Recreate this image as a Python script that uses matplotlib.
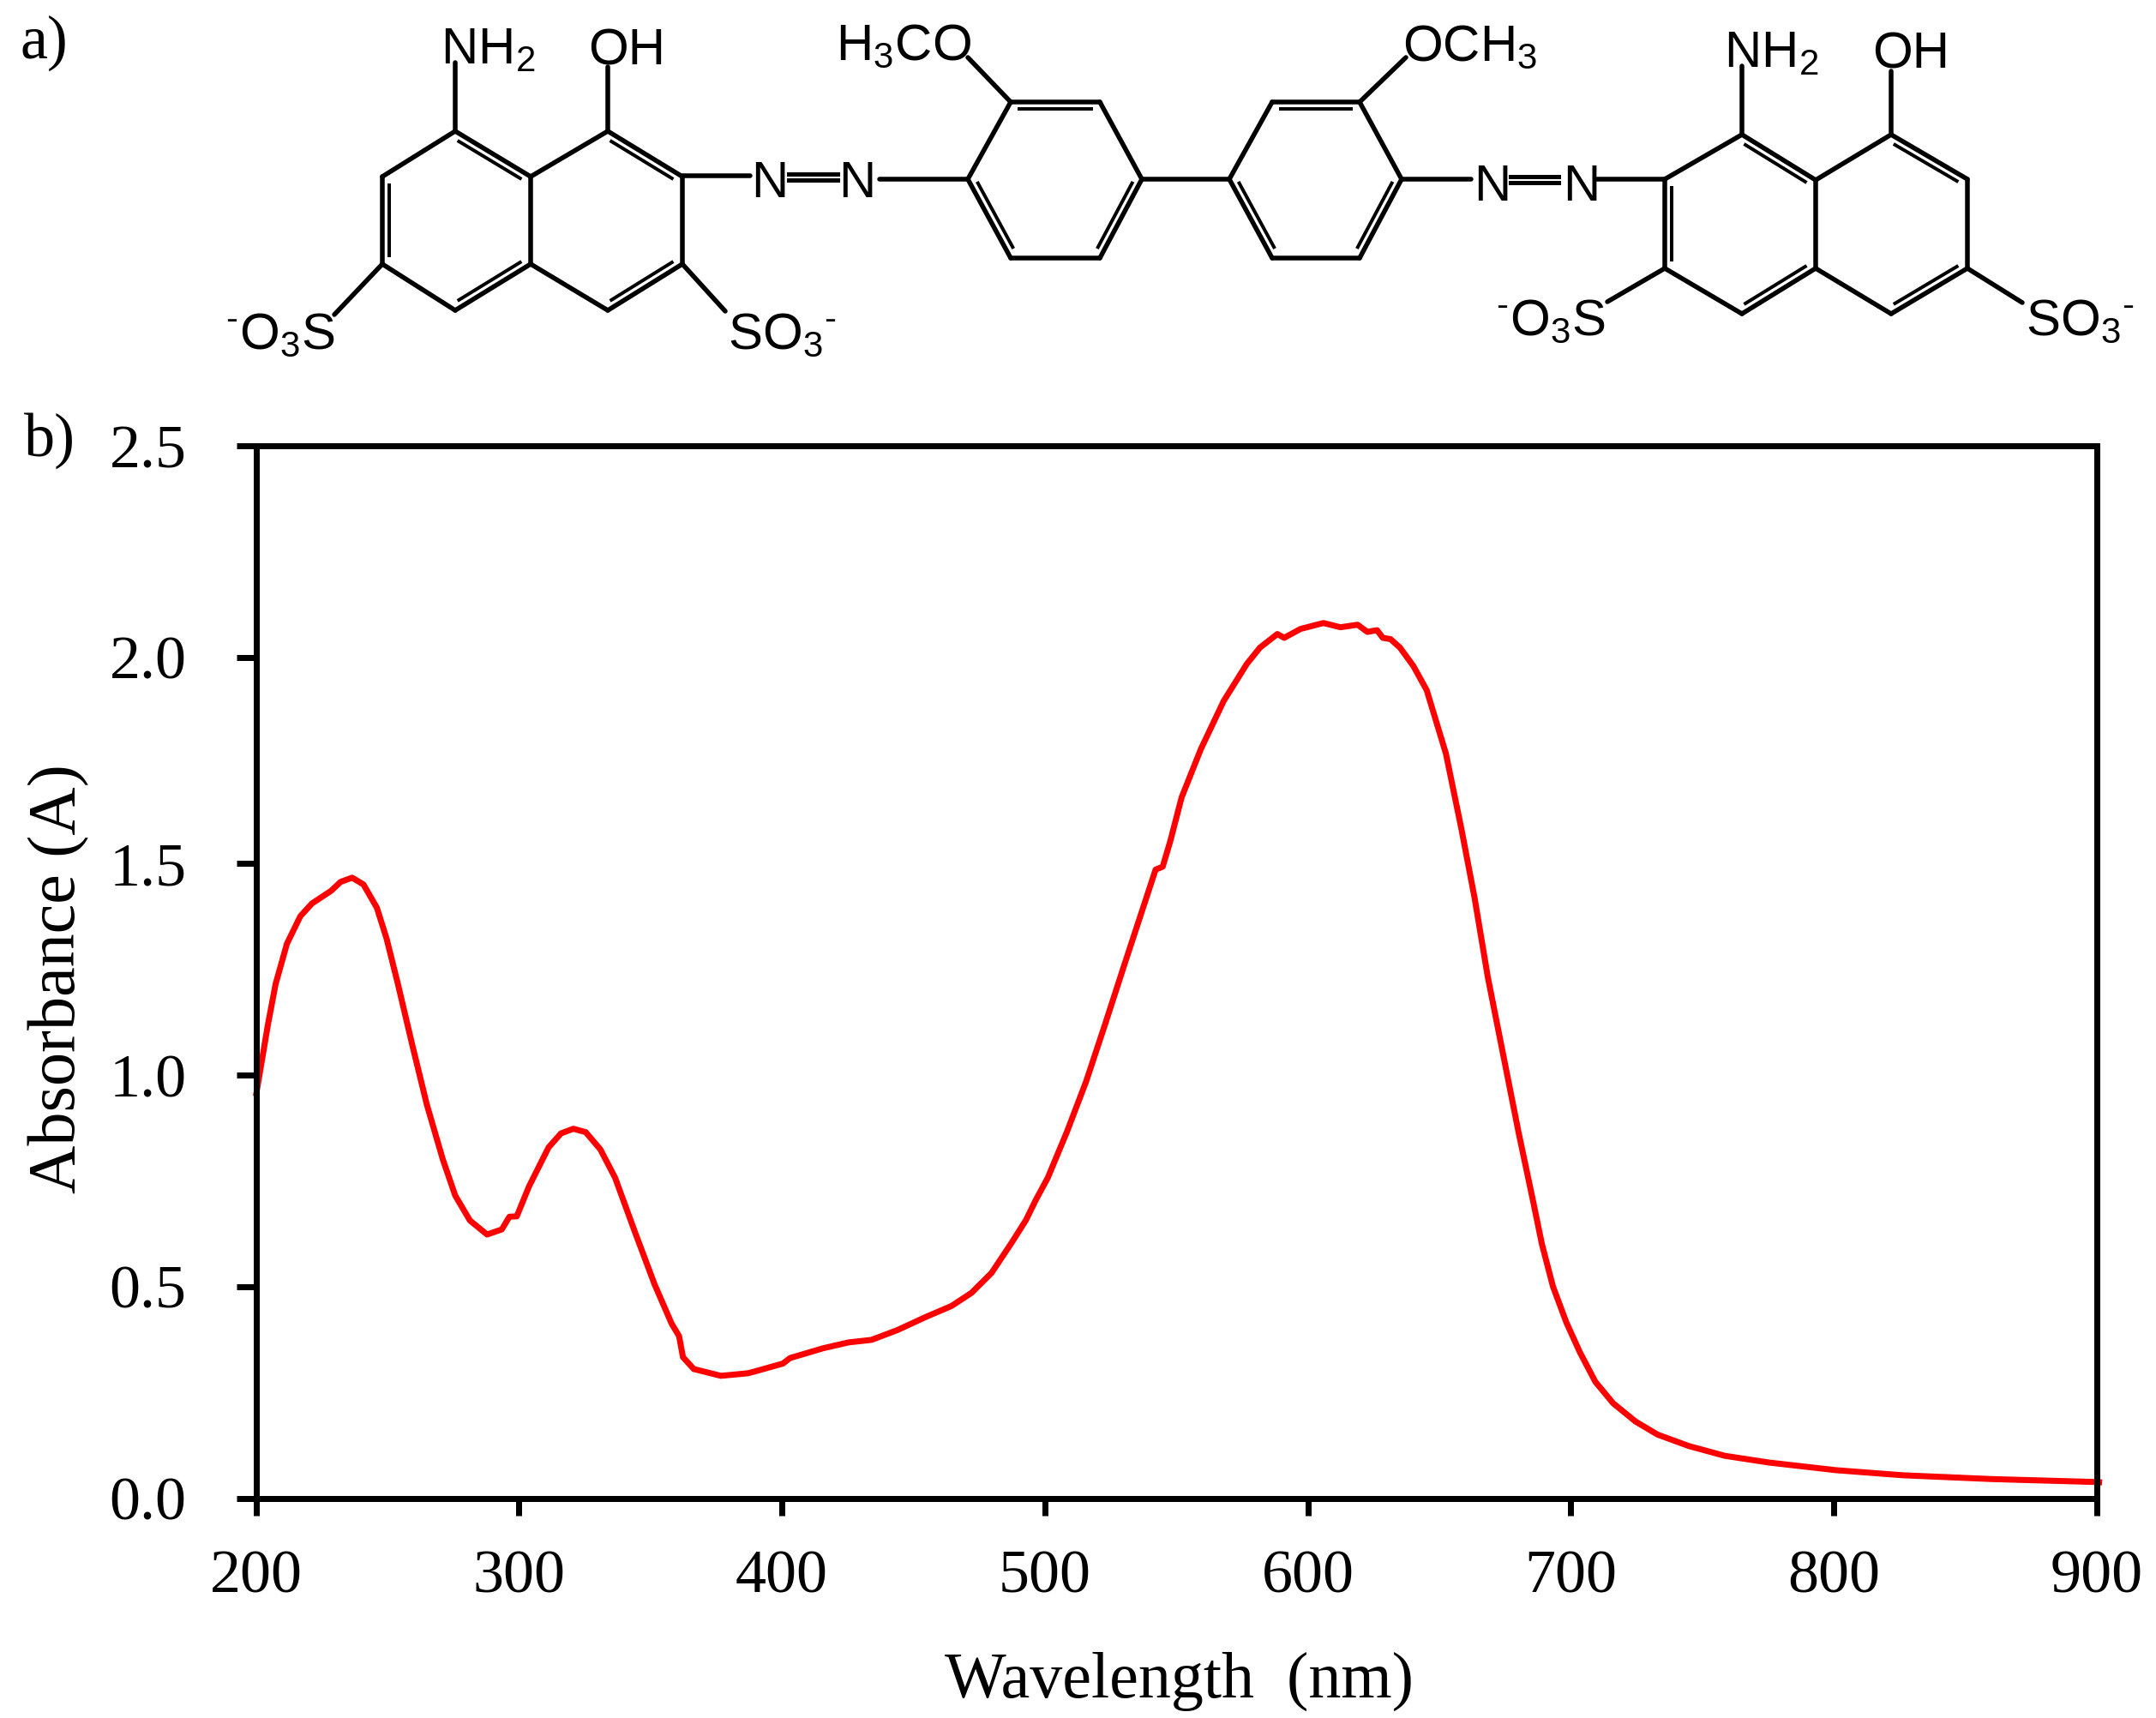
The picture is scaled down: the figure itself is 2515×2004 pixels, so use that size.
import numpy as np
import matplotlib
matplotlib.use('Agg')
import matplotlib.pyplot as plt

plt.rcParams['font.family'] = ['Liberation Serif', 'DejaVu Serif']
plt.rcParams['mathtext.fontset'] = 'custom'
plt.rcParams['mathtext.rm'] = 'Liberation Sans'
plt.rcParams['mathtext.default'] = 'regular'

W, H = 2515, 2004
PT = 0.72  # px to pt at dpi 100

wavelength = [200, 204.6, 207.5, 211.8, 216.9, 221.3, 228.6, 232.2, 236.6, 240.9, 246, 249.7, 254, 259.5, 265, 271.1,
              275.8, 281.4, 287.9, 293.5, 296.4, 299.2, 303.8, 311.3, 316, 320.7, 325.4, 331, 336.6, 344, 351.6, 358.1,
              360.9, 362.4, 366.5, 376.8, 387.1, 389.5, 400.4, 403.1, 415.6, 425.4, 434.1, 443.9, 454.7, 464.5, 472.1,
              479.7, 487.3, 492.8, 496.5, 501.1, 508.4, 515.7, 522.9, 530.2, 537.5, 542.1, 544.8, 547.7, 552, 559.3,
              568, 576.8, 581.8, 588.4, 591, 597.2, 605.9, 612.4, 618.9, 622.6, 626.3, 628.5, 631.4, 635, 640.1, 645.2,
              652.5, 658.3, 663.4, 668.4, 674.3, 680.1, 685.7, 689, 693.2, 698.3, 703.4, 709.3, 716.1, 724.6, 733, 744.9,
              758.5, 775.4, 800.8, 826.2, 860, 900, 902]
absorbance = [0.95, 1.12, 1.215, 1.31, 1.375, 1.405, 1.435, 1.456, 1.466, 1.45, 1.395, 1.322, 1.215, 1.07, 0.93, 0.80,
              0.715, 0.656, 0.623, 0.635, 0.665, 0.666, 0.736, 0.829, 0.862, 0.873, 0.865, 0.824, 0.757, 0.631, 0.505, 0.412,
              0.383, 0.333, 0.305, 0.289, 0.295, 0.299, 0.318, 0.331, 0.354, 0.368, 0.374, 0.397, 0.428, 0.454, 0.485,
              0.532, 0.603, 0.657, 0.704, 0.757, 0.866, 0.985, 1.12, 1.26, 1.398, 1.485, 1.492, 1.554, 1.66, 1.777,
              1.894, 1.984, 2.023, 2.055, 2.046, 2.067, 2.081, 2.071, 2.077, 2.06, 2.064, 2.046, 2.043, 2.023, 1.979, 1.92,
              1.766, 1.586, 1.418, 1.232, 1.047, 0.865, 0.70, 0.60, 0.50, 0.415, 0.345, 0.275, 0.224, 0.181, 0.15, 0.123,
              0.10, 0.084, 0.066, 0.054, 0.045, 0.038, 0.037]
x_ticks = [200, 300, 400, 500, 600, 700, 800, 900]
y_ticks = [0.0, 0.5, 1.0, 1.5, 2.0, 2.5]
# the scanned y axis is not quite even, tick rows in the image
y_tick_rows = [1747.5, 1500.7, 1254, 1007, 766.7, 520]

# molecule skeleton, image pixels
single_bonds = [
    ((446, 206), (531, 153)), ((531, 153), (619, 206)), ((619, 206), (709, 153)), ((709, 153), (796, 206)),
    ((796, 206), (796, 308)), ((796, 308), (709, 362)), ((709, 362), (619, 308)), ((619, 308), (531, 362)),
    ((531, 362), (446, 308)), ((446, 308), (446, 206)), ((619, 206), (619, 308)),
    ((531, 153), (531, 73)), ((709, 153), (709, 78)), ((446, 308), (390, 367)), ((796, 308), (846, 363)),
    ((796, 205), (875, 205)), ((1026, 209), (1129, 209)),
    ((1129, 209), (1179, 119)), ((1179, 119), (1283, 119)), ((1283, 119), (1332, 209)), ((1332, 209), (1283, 301)),
    ((1283, 301), (1179, 301)), ((1179, 301), (1129, 209)), ((1179, 119), (1129, 67)),
    ((1332, 209), (1434, 209)),
    ((1434, 209), (1484, 119)), ((1484, 119), (1586, 119)), ((1586, 119), (1635, 209)), ((1635, 209), (1586, 301)),
    ((1586, 301), (1484, 301)), ((1484, 301), (1434, 209)), ((1586, 119), (1640, 67)),
    ((1635, 209), (1716, 209)), ((1863, 209), (1942, 209)),
    ((1942, 209), (2032, 157)), ((2032, 157), (2118, 210)), ((2118, 210), (2206, 157)), ((2206, 157), (2295, 209)),
    ((2295, 209), (2295, 313)), ((2295, 313), (2206, 366)), ((2206, 366), (2118, 313)), ((2118, 313), (2032, 366)),
    ((2032, 366), (1942, 313)), ((1942, 313), (1942, 209)), ((2118, 210), (2118, 313)),
    ((2032, 157), (2032, 77)), ((2206, 157), (2206, 83)), ((1942, 313), (1875, 352)), ((2295, 313), (2359, 353)),
]
# second stroke of each double bond: bond, ring centre it leans to
double_bonds = [
    ((531, 153), (619, 206), (531, 257)), ((709, 153), (796, 206), (708, 257)), ((446, 206), (446, 308), (531, 257)),
    ((619, 308), (531, 362), (531, 257)), ((796, 308), (709, 362), (708, 257)),
    ((1179, 119), (1283, 119), (1232, 210)), ((1129, 209), (1179, 301), (1232, 210)), ((1283, 301), (1332, 209), (1232, 210)),
    ((1484, 119), (1586, 119), (1535, 210)), ((1434, 209), (1484, 301), (1535, 210)), ((1586, 301), (1635, 209), (1535, 210)),
    ((2032, 157), (2118, 210), (2030, 261)), ((2206, 157), (2295, 209), (2207, 261)), ((1942, 209), (1942, 313), (2030, 261)),
    ((2118, 313), (2032, 366), (2030, 261)), ((2295, 313), (2206, 366), (2207, 261)),
]
azo_bonds = [((920, 203), (977, 203)), ((920, 210), (977, 210)), ((1762, 206), (1818, 206)), ((1762, 213), (1818, 213))]

atom_labels = [
    ('NH$_2$', 514, 75), ('OH', 686, 75), ('H$_3$CO', 975, 70), ('OCH$_3$', 1636, 71), ('NH$_2$', 2011, 79), ('OH', 2184, 79),
    ('N', 876, 230), ('N', 978, 230), ('N', 1719, 234), ('N', 1823, 234),
    ('$^{\\text{-}}$O$_3$S', 263, 407), ('SO$_3$$^{\\text{-}}$', 849, 407), ('$^{\\text{-}}$O$_3$S', 1745, 391), ('SO$_3$$^{\\text{-}}$', 2363, 391),
]

fig = plt.figure(figsize=(W / 100, H / 100), dpi=100)
ax = fig.add_axes([298.5 / W, 1 - 1747.5 / H, (2446 - 298.5) / W, (1747.5 - 520) / H])
ax.plot(wavelength, absorbance, color='#ff0000', lw=7 * PT, solid_joinstyle='round', solid_capstyle='butt', clip_on=False)
rows = (y_tick_rows[0] - np.array(y_tick_rows)) / (y_tick_rows[0] - y_tick_rows[-1])
ax.set_yscale('function', functions=(lambda v: np.interp(v, y_ticks, rows), lambda r: np.interp(r, rows, y_ticks)))
ax.set_xlim(200, 900)
ax.set_ylim(0, 2.5)
ax.set_xticks(x_ticks)
ax.set_yticks(y_ticks)
ax.set_yticklabels(['%.1f' % v for v in y_ticks])
ax.minorticks_off()
for s in ax.spines.values():
    s.set_linewidth(7 * PT)
ax.tick_params(axis='x', length=20 * PT, width=7 * PT, pad=40 * PT, labelsize=72 * PT)
ax.tick_params(axis='y', length=23 * PT, width=7 * PT, pad=58 * PT, labelsize=72 * PT)
ax.set_xlabel('Wavelength  (nm)', fontsize=76 * PT, va='baseline')
ax.set_ylabel('Absorbance (A)', fontsize=78 * PT)
ax.xaxis.set_label_coords(1376 / W, 1 - 1980 / H, transform=fig.transFigure)
ax.yaxis.set_label_coords(104 / W, 1 - 1142 / H, transform=fig.transFigure)

# overlay in image pixels for the structure
top = fig.add_axes([0, 0, 1, 1])
top.set_xlim(0, W)
top.set_ylim(H, 0)
top.axis('off')
for a, b in single_bonds:
    top.plot([a[0], b[0]], [a[1], b[1]], color='black', lw=5.5 * PT, solid_capstyle='round')
for a, b, c in double_bonds:
    a, b, c = np.array(a, float), np.array(b, float), np.array(c, float)
    p = a + 0.09 * (c - a) + 0.05 * (b - a)
    q = b + 0.09 * (c - b) - 0.05 * (b - a)
    top.plot([p[0], q[0]], [p[1], q[1]], color='black', lw=4 * PT)
for a, b in azo_bonds:
    top.plot([a[0], b[0]], [a[1], b[1]], color='black', lw=5 * PT)
for txt, x, y in atom_labels:
    top.text(x, y, txt, family=['Liberation Sans', 'DejaVu Sans'], fontsize=60 * PT, ha='left', va='baseline', color='black')
top.text(24, 68, 'a)', fontsize=72 * PT, ha='left', va='baseline')
top.text(28, 532, 'b)', fontsize=72 * PT, ha='left', va='baseline')

fig.savefig('out.png', dpi=100)
